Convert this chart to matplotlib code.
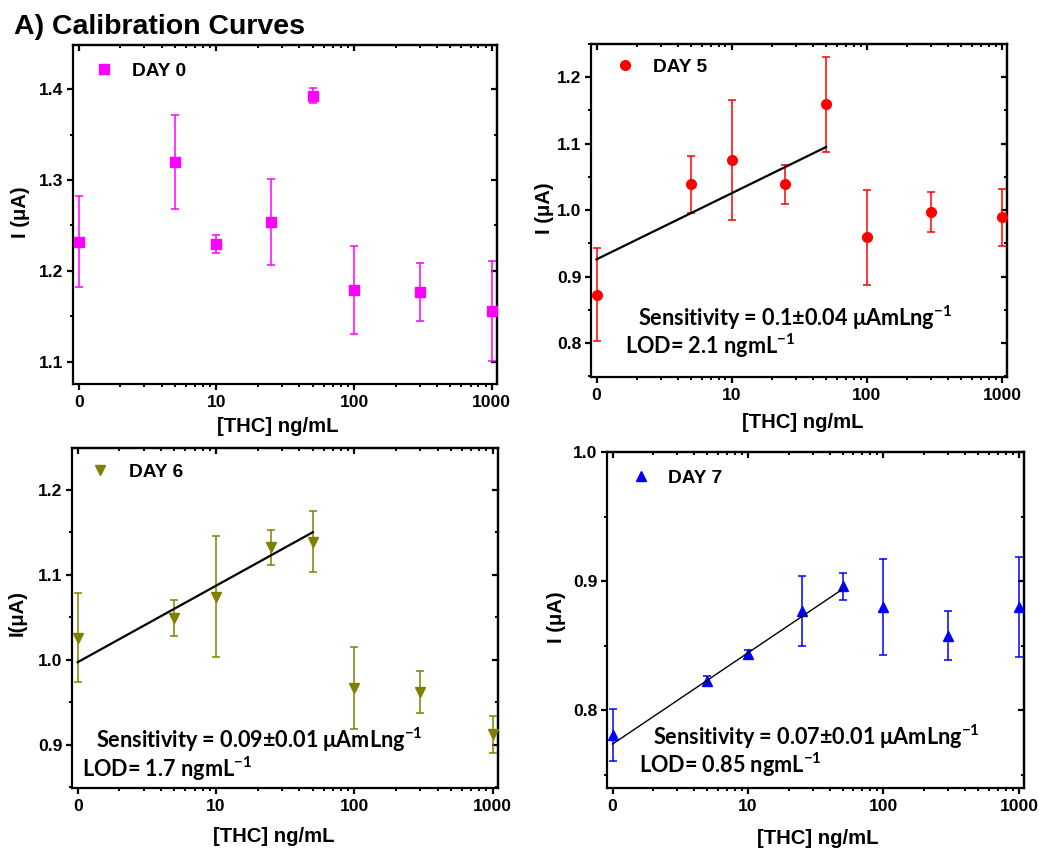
import numpy as np
import matplotlib
matplotlib.use("Agg")
import matplotlib.pyplot as plt
from matplotlib.ticker import LogLocator, NullFormatter, FixedLocator, FixedFormatter, MultipleLocator

plt.rcParams['font.family'] = ['Liberation Sans', 'DejaVu Sans']
plt.rcParams['font.weight'] = 'bold'
plt.rcParams['mathtext.fontset'] = 'custom'
plt.rcParams['mathtext.rm'] = 'Lato:bold'
plt.rcParams['mathtext.bf'] = 'Lato:bold'
plt.rcParams['mathtext.it'] = 'Lato:bold'

# ---------------- data ----------------
conc = [0, 5, 10, 25, 50, 100, 300, 1000]          # [THC] ng/mL
x_tick_vals = [1, 10, 100, 1000]                    # "0" drawn at 1 on log axis
x_tick_labels = ["0", "10", "100", "1000"]

day0_I = [1.232, 1.320, 1.230, 1.254, 1.393, 1.179, 1.177, 1.156]
day0_err = [0.050, 0.052, 0.010, 0.047, 0.008, 0.048, 0.032, 0.055]

day5_I = [0.873, 1.039, 1.075, 1.039, 1.159, 0.959, 0.997, 0.989]
day5_err = [0.070, 0.043, 0.090, 0.029, 0.071, 0.072, 0.030, 0.043]

day6_I = [1.026, 1.049, 1.074, 1.132, 1.139, 0.967, 0.962, 0.912]
day6_err = [0.052, 0.021, 0.071, 0.021, 0.036, 0.048, 0.025, 0.022]

day7_I = [0.781, 0.823, 0.844, 0.877, 0.896, 0.880, 0.858, 0.880]
day7_err = [0.020, 0.004, 0.003, 0.027, 0.0105, 0.037, 0.019, 0.039]

# linear fits of I vs log10(conc) (intercept, slope), fitted range 0..50 ng/mL
fit_day5 = (0.926, 0.0995)
fit_day6 = (0.997, 0.090)
fit_day7 = (0.774, 0.0706)
fit_range = (1, 50)

W, H = 1039, 852
fig = plt.figure(figsize=(W / 100, H / 100), dpi=100)


def px_rect(l, t, r, b):
    return [l / W, (H - b) / H, (r - l) / W, (b - t) / H]


def fpos(x, y):
    return x / W, (H - y) / H


xplot = [c if c > 0 else 1 for c in conc]


def style_axes(ax, ylim, ymajor, yminor):
    ax.set_xscale('log')
    ax.set_xlim(0.91, 1090)
    ax.set_ylim(*ylim)
    for s in ax.spines.values():
        s.set_linewidth(1.6)
    ax.xaxis.set_major_locator(FixedLocator(x_tick_vals))
    ax.xaxis.set_major_formatter(FixedFormatter(x_tick_labels))
    ax.xaxis.set_minor_locator(LogLocator(base=10, subs=np.arange(2, 10)))
    ax.xaxis.set_minor_formatter(NullFormatter())
    ax.yaxis.set_major_locator(MultipleLocator(ymajor))
    ax.yaxis.set_minor_locator(MultipleLocator(yminor))
    ax.tick_params(axis='both', which='major', direction='out', length=4, width=1.6,
                   labelsize=12.6, top=False, right=False)
    ax.tick_params(axis='both', which='minor', direction='out', length=2.5, width=1.4,
                   top=False, right=False)
    ax.tick_params(axis='x', which='major', pad=3.8)
    ax.tick_params(axis='y', which='major', pad=3)
    for lab in ax.get_xticklabels() + ax.get_yticklabels():
        lab.set_fontweight('bold')
    sx = ax.secondary_xaxis('top')
    sx.xaxis.set_major_locator(FixedLocator(x_tick_vals))
    sx.xaxis.set_minor_locator(LogLocator(base=10, subs=np.arange(2, 10)))
    sx.xaxis.set_major_formatter(NullFormatter())
    sx.xaxis.set_minor_formatter(NullFormatter())
    sx.tick_params(which='major', direction='in', length=4, width=1.6)
    sx.tick_params(which='minor', direction='in', length=2.5, width=1.4)
    sx.spines['top'].set_linewidth(1.6)
    sy = ax.secondary_yaxis('right')
    sy.yaxis.set_major_locator(MultipleLocator(ymajor))
    sy.yaxis.set_minor_locator(MultipleLocator(yminor))
    sy.yaxis.set_major_formatter(NullFormatter())
    sy.yaxis.set_minor_formatter(NullFormatter())
    sy.tick_params(which='major', direction='in', length=4, width=1.6)
    sy.tick_params(which='minor', direction='in', length=2.5, width=1.4)
    sy.spines['right'].set_linewidth(1.6)


def add_legend(ax, label, marker, color, ms, mx, my, tx):
    # mx,my marker centre in figure px; tx = text left in figure px
    h, = ax.plot([], [], ls='none', marker=marker, color=color, ms=ms, label=label)
    fs = 13.8
    fs_px = fs * 100 / 72
    hl = 1.0
    l, b, w, hh = ax.get_position().bounds
    ax_l = l * W
    ax_b = H - b * H
    ax_w = w * W
    ax_h = hh * H
    anchor_x = (mx - hl * fs_px / 2 - ax_l) / ax_w
    anchor_y = (ax_b - my) / ax_h
    pad = (tx - mx - hl * fs_px / 2) / fs_px
    leg = ax.legend(handles=[h], loc='center left', bbox_to_anchor=(anchor_x, anchor_y),
                    frameon=False, borderpad=0, borderaxespad=0, handlelength=hl,
                    handletextpad=pad, prop={'family': 'Liberation Sans', 'weight': 'bold', 'size': fs})
    return leg


def errplot(ax, y, e, marker, color, ms):
    ax.errorbar(xplot, y, yerr=e, fmt=marker, color=color, ecolor=color, ms=ms,
                elinewidth=1.1, capsize=3.2, capthick=1.1, zorder=3)


def fitline(ax, fit, lw):
    xs = np.logspace(np.log10(fit_range[0]), np.log10(fit_range[1]), 50)
    ax.plot(xs, fit[0] + fit[1] * np.log10(xs), color='black', lw=lw, zorder=4)


sens_font = {'family': ['Lato', 'DejaVu Sans'], 'weight': 'bold', 'size': 15.6}

# ---------- Panel 1 : Day 0 ----------
ax1 = fig.add_axes(px_rect(73, 45, 497, 384))
errplot(ax1, day0_I, day0_err, 's', '#FF00FF', 7.8)
style_axes(ax1, (1.0754, 1.4488), 0.1, 0.05)
add_legend(ax1, 'DAY 0', 's', '#FF00FF', 7.8, 104, 71, 132)

# ---------- Panel 2 : Day 5 ----------
ax2 = fig.add_axes(px_rect(591, 44, 1007, 377))
errplot(ax2, day5_I, day5_err, 'o', '#FF0000', 7)
fitline(ax2, fit_day5, 1.6)
style_axes(ax2, (0.749, 1.25), 0.1, 0.05)
add_legend(ax2, 'DAY 5', 'o', '#FF0000', 7, 625, 67, 653)

# ---------- Panel 3 : Day 6 ----------
ax3 = fig.add_axes(px_rect(72, 448, 498, 788))
errplot(ax3, day6_I, day6_err, 'v', '#808000', 7.5)
fitline(ax3, fit_day6, 1.6)
style_axes(ax3, (0.849, 1.249), 0.1, 0.05)
add_legend(ax3, 'DAY 6', 'v', '#808000', 7.5, 100, 472, 129)

# ---------- Panel 4 : Day 7 ----------
ax4 = fig.add_axes(px_rect(607, 452, 1024, 788))
errplot(ax4, day7_I, day7_err, '^', '#0000FF', 7.5)
fitline(ax4, fit_day7, 1.0)
style_axes(ax4, (0.74, 1.0), 0.1, 0.05)
add_legend(ax4, 'DAY 7', '^', '#0000FF', 7.5, 641, 478, 668)

# ---------- text ----------
fig.text(*fpos(14, 34), 'A) Calibration Curves', fontsize=20.5, fontweight='bold',
         ha='left', va='baseline', family='Liberation Sans')

xl_kw = dict(fontsize=14.6, fontweight='bold', ha='center', va='center', family='Liberation Sans')
fig.text(*fpos(278, 427), '[THC] ng/mL', **xl_kw)
fig.text(*fpos(803, 423), '[THC] ng/mL', **xl_kw)
fig.text(*fpos(274, 837), '[THC] ng/mL', **xl_kw)
fig.text(*fpos(818, 839), '[THC] ng/mL', **xl_kw)

fig.text(*fpos(21, 212), 'I (μA)', rotation=90, **xl_kw)
fig.text(*fpos(544, 208), 'I (μA)', rotation=90, **xl_kw)
fig.text(*fpos(17, 613), 'I(μA)', rotation=90, **xl_kw)
fig.text(*fpos(557, 617), 'I (μA)', rotation=90, **xl_kw)

ann_kw = dict(ha='left', va='baseline', fontdict=sens_font)
fig.text(*fpos(638, 326), r'Sensitivity = 0.1±0.04 μAmLng$^{\mathbf{-1}}$', **ann_kw)
fig.text(*fpos(625, 354), r'LOD= 2.1 ngmL$^{\mathbf{-1}}$', **ann_kw)
fig.text(*fpos(96, 748), r'Sensitivity = 0.09±0.01 μAmLng$^{\mathbf{-1}}$', **ann_kw)
fig.text(*fpos(82, 777), r'LOD= 1.7 ngmL$^{\mathbf{-1}}$', **ann_kw)
fig.text(*fpos(653, 745), r'Sensitivity = 0.07±0.01 μAmLng$^{\mathbf{-1}}$', **ann_kw)
fig.text(*fpos(639, 773), r'LOD= 0.85 ngmL$^{\mathbf{-1}}$', **ann_kw)

fig.savefig('out.png', dpi=100)
